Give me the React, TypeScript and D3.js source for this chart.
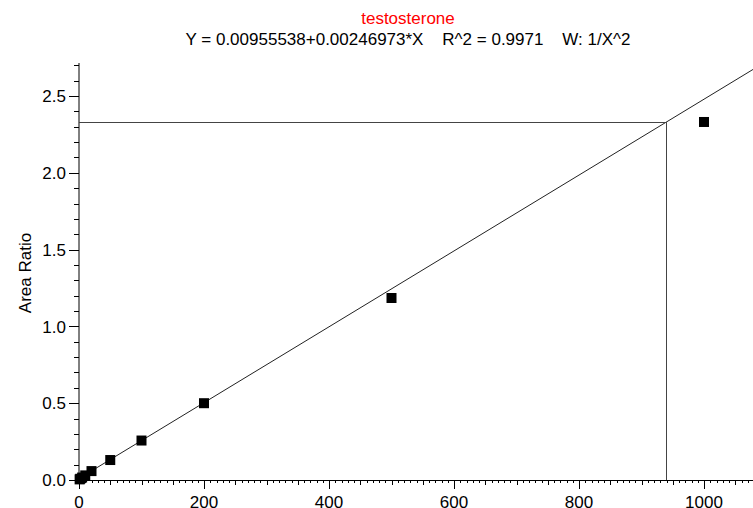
import { useEffect } from "react";
import * as d3 from "d3";

// calibration standards (concentration) and measured area ratio
const concentrations = [1, 2, 5, 10, 20, 50, 100, 200, 500, 1000];
const areaRatios = [0.004, 0.008, 0.016, 0.03, 0.058, 0.13, 0.257, 0.5, 1.185, 2.331];

const intercept = 0.00955538;
const slope = 0.00246973;

const titleText = "testosterone";
const equationText = "Y = 0.00955538+0.00246973*X    R^2 = 0.9971    W: 1/X^2";
const yLabel = "Area Ratio";

const xMajorTicks = [0, 200, 400, 600, 800, 1000];
const yMajorTicks = [0, 0.5, 1.0, 1.5, 2.0, 2.5];

const W = 753;
const H = 508;
const font = "'Liberation Sans', Arial, sans-serif";

export default function App() {
    useEffect(() => {
        document.body.style.margin = "0";
    }, []);

    const x = d3.scaleLinear().domain([0, 1080]).range([79, 754]);
    const y = d3.scaleLinear().domain([0, 2.715]).range([480, 63]);

    const x0 = x(0);
    const y0 = y(0);

    // back-calculated concentration for the last standard
    const crossY = areaRatios[areaRatios.length - 1];
    const crossX = (crossY - intercept) / slope;

    const fitLine = d3
        .line<number>()
        .x((d) => x(d))
        .y((d) => y(intercept + slope * d));

    const xMinor = d3.range(0, 1081, 10);
    const yMinor = d3.range(0, 2.71, 0.1);

    return (
        <svg width={W} height={H} style={{ position: "absolute", left: 0, top: 0, background: "#fff" }}>
            <text x={408} y={24} textAnchor="middle" fontFamily={font} fontSize={17} fill="#ff0000">
                {titleText}
            </text>
            <text x={408} y={45} textAnchor="middle" fontFamily={font} fontSize={17} fill="#000" style={{ whiteSpace: "pre" }}>
                {equationText}
            </text>

            {/* y axis */}
            <line x1={x0} x2={x0} y1={63} y2={y0} stroke="#000" />
            {yMinor.map((v, i) => (
                <line key={"ym" + i} x1={x0 - 5} x2={x0} y1={Math.round(y(v)) + 0.5} y2={Math.round(y(v)) + 0.5} stroke="#000" />
            ))}
            {yMajorTicks.map((v) => (
                <g key={"y" + v}>
                    <line x1={x0 - 10} x2={x0} y1={Math.round(y(v)) + 0.5} y2={Math.round(y(v)) + 0.5} stroke="#000" />
                    <text x={x0 - 13} y={y(v)} dy="0.36em" textAnchor="end" fontFamily={font} fontSize={17} fill="#000">
                        {d3.format(".1f")(v)}
                    </text>
                </g>
            ))}
            <text
                transform={`translate(31,273) rotate(-90)`}
                textAnchor="middle"
                fontFamily={font}
                fontSize={17}
                fill="#000"
            >
                {yLabel}
            </text>

            {/* x axis */}
            <line x1={x0} x2={W} y1={y0 + 0.5} y2={y0 + 0.5} stroke="#000" />
            {xMinor.map((v) => {
                const len = v % 200 === 0 ? 9 : v % 50 === 0 ? 5 : 3;
                const px = Math.round(x(v)) + 0.5;
                return <line key={"xm" + v} x1={px} x2={px} y1={y0} y2={y0 + len} stroke="#000" />;
            })}
            {xMajorTicks.map((v) => (
                <text key={"x" + v} x={x(v)} y={y0 + 28} textAnchor="middle" fontFamily={font} fontSize={17} fill="#000">
                    {v}
                </text>
            ))}

            {/* regression line */}
            <path d={fitLine([0, 1080]) ?? ""} fill="none" stroke="#222" strokeWidth={1} />

            {/* crosshair at last standard */}
            <line x1={x0} x2={x(crossX)} y1={Math.round(y(crossY)) + 0.5} y2={Math.round(y(crossY)) + 0.5} stroke="#444" />
            <line x1={Math.round(x(crossX)) + 0.5} x2={Math.round(x(crossX)) + 0.5} y1={y(crossY)} y2={y0} stroke="#444" />

            {/* standards */}
            {concentrations.map((c, i) => (
                <rect key={"p" + i} x={x(c) - 5} y={y(areaRatios[i]) - 5} width={10} height={10} fill="#000" />
            ))}
        </svg>
    );
}
